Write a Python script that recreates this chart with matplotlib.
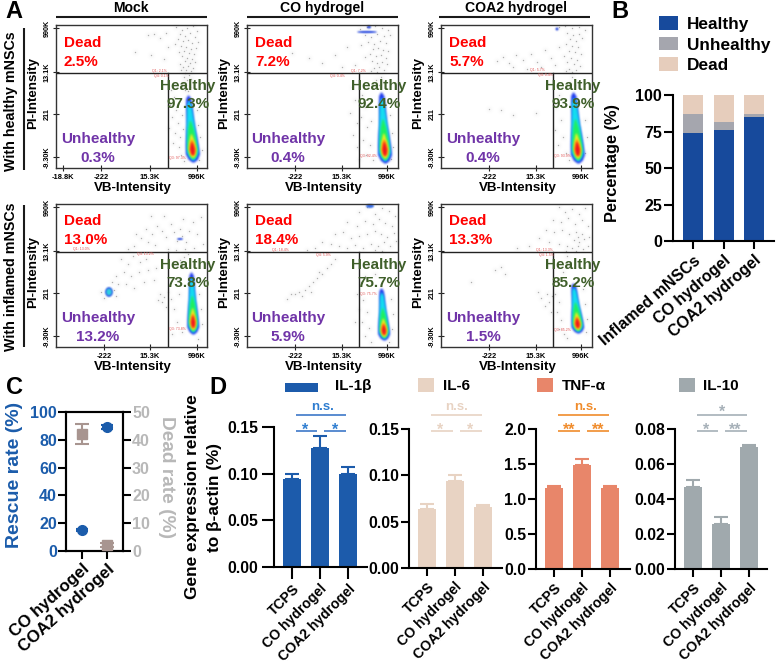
import numpy as np
import matplotlib
matplotlib.use("Agg")
import matplotlib.pyplot as plt
from matplotlib.patches import Ellipse, Rectangle

plt.rcParams['font.family'] = ['Liberation Sans', 'DejaVu Sans']
plt.rcParams['font.weight'] = 'bold'

W, H = 777, 664
DARK = '#1a1a1a'

# ---------- panel A values ----------
conditions = ['Mock', 'CO hydrogel', 'COA2 hydrogel']
rows = ['With healthy mNSCs', 'With inflamed mNSCs']
dead_pct = [['2.5%', '7.2%', '5.7%'], ['13.0%', '18.4%', '13.3%']]
healthy_pct = [['97.3%', '92.4%', '93.9%'], ['73.8%', '75.7%', '85.2%']]
unhealthy_pct = [['0.3%', '0.4%', '0.4%'], ['13.2%', '5.9%', '1.5%']]

# events, in plot units (0-151 across, 0-143 down)
events_r1c1 = [(120,2),(126,5),(131,3),(137,1),(141,6),(124,9),(129,11),(134,8),(139,12),(122,14),(127,16),(132,15),(136,18),(142,17),(119,19),(125,21),(130,22),(135,24),(140,23),(128,26),(133,28),(138,29),(123,27),(126,31),(131,33),(136,34),(129,36),(134,38),(139,37),(124,39),(127,42),(132,41),(137,43),(130,45),(135,46),(125,45),(129,48),(133,50),(128,52),(131,55),(135,54),(127,58),(130,60),(134,62),(129,65),(132,66),(92,10),(98,9),(110,8),(104,13),(79,27),(95,30),(108,34),(112,22),(115,65),(118,72),(114,80),(120,85),(116,92),(122,98),(113,103),(119,108),(124,112),(117,118),(123,122),(126,90),(127,104),(125,130),(128,136),(142,100),(144,112),(146,125),(143,135),(141,85)]
events_r1c2 = [(113,4),(120,2),(128,1),(135,3),(141,5),(118,10),(124,12),(130,9),(137,11),(143,10),(121,17),(127,19),(133,16),(139,18),(126,24),(131,23),(136,25),(141,26),(123,29),(129,31),(134,30),(139,33),(125,36),(130,38),(135,37),(140,39),(127,43),(132,42),(137,45),(124,46),(130,47),(134,52),(129,55),(132,60),(136,57),(45,28),(62,33),(75,38),(88,30),(100,22),(108,40),(95,42),(118,32),(114,20),(105,62),(108,75),(103,88),(110,98),(106,110),(110,122),(115,70),(118,82),(114,92),(120,102),(116,115),(123,120),(119,130),(126,135),(124,96),(143,90),(145,108),(146,122),(144,134),(112,134)]
events_r1c3 = [(118,2),(124,1),(131,3),(138,2),(144,5),(126,8),(132,10),(138,9),(129,14),(135,16),(141,13),(125,19),(131,21),(137,22),(128,26),(134,27),(140,29),(123,31),(130,33),(136,35),(126,37),(133,39),(139,41),(128,44),(135,45),(125,46),(131,47),(56,36),(62,32),(68,38),(75,30),(82,35),(90,29),(96,37),(104,25),(110,33),(114,40),(100,42),(86,44),(72,42),(118,22),(131,52),(128,58),(134,60),(60,85),(72,90),(48,84),(95,88),(118,70),(115,82),(120,95),(114,105),(122,112),(117,120),(125,128),(128,135),(144,95),(146,112),(144,128)]
events_r2c1 = [(90,25),(96,30),(101,22),(106,27),(110,33),(92,38),(99,41),(85,34),(78,42),(72,45),(115,20),(118,28),(121,37),(124,25),(127,15),(126,32),(130,38),(133,27),(137,18),(141,30),(145,13),(147,40),(138,44),(129,45),(120,46),(108,12),(95,12),(80,30),(112,45),(65,55),(72,60),(77,52),(84,58),(90,55),(60,72),(68,68),(75,72),(83,68),(92,66),(100,64),(56,78),(62,80),(70,80),(78,84),(88,78),(98,76),(45,88),(48,94),(60,92),(58,86),(104,90),(108,93),(112,88),(106,98),(110,103),(115,95),(102,96),(118,60),(124,56),(128,53),(132,50),(126,62),(120,75),(123,90),(118,105),(121,118),(126,128),(116,130),(143,90),(145,105),(146,120),(142,135)]
events_r2c2 = [(112,8),(120,3),(128,10),(135,4),(142,7),(148,12),(100,18),(110,22),(118,17),(126,20),(132,15),(138,19),(145,22),(88,30),(96,28),(104,34),(112,32),(120,30),(128,27),(134,30),(140,33),(147,29),(75,38),(84,40),(92,42),(100,44),(108,41),(116,44),(124,40),(131,42),(137,38),(143,42),(149,37),(128,46),(135,47),(68,44),(60,46),(88,55),(84,60),(80,64),(75,70),(70,74),(66,78),(72,68),(62,82),(58,86),(52,88),(48,90),(55,92),(44,90),(40,95),(64,88),(110,90),(114,78),(118,72),(116,96),(120,108),(115,118),(122,124),(118,132),(124,138),(128,70),(144,95),(146,110),(145,125),(142,138),(112,105),(108,118)]
events_r2c3 = [(118,3),(124,8),(131,5),(138,10),(144,4),(112,16),(120,18),(127,14),(134,20),(141,16),(147,22),(105,26),(113,28),(121,26),(128,30),(135,28),(137,33),(141,30),(133,36),(138,38),(143,35),(148,33),(98,34),(108,38),(118,40),(126,42),(131,44),(137,42),(142,45),(147,42),(88,42),(76,44),(125,47),(135,47),(60,63),(64,70),(54,66),(30,78),(126,52),(128,60),(122,68),(106,90),(100,94),(108,98),(111,92),(104,102),(110,108),(97,88),(114,90),(118,98),(116,108),(120,116),(118,125),(123,130),(126,134),(142,85),(144,100),(146,115),(145,128)]
events = [[events_r1c1, events_r1c2, events_r1c3], [events_r2c1, events_r2c2, events_r2c3]]

# density ridge of the healthy population: (x bottom, y bottom, x top, y top, width factor)
ridges = [[(137,137,132,70,1.0), (138,138,134,67,1.0), (137,138,132,67,1.0)],
          [(137,130,135,68,0.85), (137,136,134,84,0.85), (137,129,132,79,0.9)]]
band_colors = ['#1f3cf0', '#14dcf0', '#20f060', '#f0f020', '#ff8a10', '#f01020']
band_v = [[0,.04,.12,.25,.4,.55,.7,.85,.95,1], [.03,.08,.15,.3,.5,.7,.85,.92],
          [.05,.1,.2,.35,.5,.62], [.07,.12,.2,.3,.42], [.1,.14,.2,.28,.34], [.11,.15,.2,.25,.3]]
band_hw = [[1,4.5,7,6.5,5.5,4.2,3.6,3.2,2.6,.5], [.8,3.7,6,5.5,4.5,3.2,2.4,.5],
           [1,3.5,5,4.2,2.8,.6], [1,3,4,3,.6], [1,2.6,3.2,2.2,.5], [.8,1.8,2.2,1.4,.4]]
# smaller populations: (row, col, x, y, width, height, colour)
spots = [(0,1,120,7,20,2.2,'#3050e0'), (0,1,122,2,4,3,'#3050e0'), (0,2,116,4,3,3,'#3050e0'),
         (1,0,53,88,8,10,'#3a70e8'), (1,0,53,88,5,6,'#2fd0e0'), (1,0,124,35,6,2,'#3050e0'),
         (1,1,123,2,8,4,'#3a70e8')]
# tick positions and small gate percent labels
xticks_lab = [[[7,45,94,141], [48,95,140], [48,95,140]], [[48,94,141], [48,95,140], [48,95,140]]]
xticks_txt = [[['-18.8K','-222','15.3K','996K'], ['-222','15.3K','996K'], ['-222','15.3K','996K']],
              [['-222','15.3K','996K'], ['-222','15.3K','996K'], ['-222','15.3K','996K']]]
yticks_pos = [3, 47, 89, 132]
yticks_txt = ['990K', '13.1K', '211', '-9.30K']
gate_labels = [[[(96,46,'Q1: 2.1%'),(98,51,'Q4: 0.1%'),(113,133,'Q3: 97.3%')],
                [(104,46,'Q1: 7.2%'),(83,51,'Q4: 0.4%'),(113,131,'Q3: 92.4%')],
                [(89,45,'Q1: 5.7%'),(97,50,'Q4: 0.4%'),(113,131,'Q3: 93.9%')]],
               [[(17,45,'Q1: 13.0%'),(81,50,'Q4: 13.2%'),(113,125,'Q3: 73.8%')],
                [(25,46,'Q1: 18.4%'),(69,51,'Q4: 5.9%'),(113,90,'Q3: 75.7%')],
                [(95,46,'Q1: 13.3%'),(98,51,'Q4: 1.5%'),(113,126,'Q3: 85.2%')]]]

# ---------- panel B ----------
b_groups = ['Inflamed mNSCs', 'CO hydrogel', 'COA2 hydrogel']
b_healthy = [73.8, 75.7, 85.2]
b_unhealthy = [13.2, 5.9, 1.5]
b_dead = [13.0, 18.4, 13.3]

# ---------- panel C ----------
c_groups = ['CO hydrogel', 'COA2 hydrogel']
c_rescue = [15.0, 89.0]
c_rescue_err = [0.8, 1.5]
c_dead = [42.2, 2.2]
c_dead_err = [3.6, 0.7]

# ---------- panel D ----------
d_groups = ['TCPS', 'CO hydrogel', 'COA2 hydrogel']
il1b = [0.094, 0.128, 0.100]
il1b_top = [0.0994, 0.1407, 0.107]
il6 = [0.064, 0.094, 0.066]
il6_top = [0.069, 0.100, 0.0684]
tnfa = [1.16, 1.49, 1.16]
tnfa_top = [1.19, 1.577, 1.19]
il10 = [0.047, 0.0255, 0.0695]
il10_top = [0.0507, 0.0295, 0.0709]

fig = plt.figure(figsize=(W / 100, H / 100), dpi=100, facecolor='white')


def axpx(x0, y0, x1, y1, **kw):
    return fig.add_axes([x0 / W, 1 - y1 / H, (x1 - x0) / W, (y1 - y0) / H], **kw)


def soft(taps):
    k = np.array(taps, float)
    k /= k.sum()
    pad = len(taps)

    def filt(im, dpi):
        out = np.zeros((im.shape[0] + 2 * pad, im.shape[1] + 2 * pad, 4))
        out[pad:-pad, pad:-pad] = im
        pm = out.copy()
        pm[..., :3] *= out[..., 3:4]
        for axis in (0, 1):
            pm = np.apply_along_axis(lambda m: np.convolve(m, k, mode='same'), axis, pm)
        a = np.clip(pm[..., 3:4], 1e-4, 1)
        pm[..., :3] = np.clip(pm[..., :3] / a, 0, 1)
        return pm, -pad, -pad
    return filt


ov = fig.add_axes([0, 0, 1, 1], zorder=20)
ov.set_xlim(0, W)
ov.set_ylim(H, 0)
ov.axis('off')
ov.patch.set_alpha(0)


def T(x, y, s, size, color='black', ha='center', va='center', rot=0, weight='bold', **kw):
    return ov.text(x, y, s, fontsize=size, color=color, ha=ha, va=va, rotation=rot,
                   fontweight=weight, rotation_mode='anchor', **kw)


def L(x0, y0, x1, y1, color=DARK, lw=1.5):
    ov.plot([x0, x1], [y0, y1], color=color, lw=lw, solid_capstyle='butt')


# ---------- panel A ----------
col_x = [56, 247, 441]
row_y = [25, 204]
PW, PH = 151, 143
VGATE, HGATE = 112, 48
for r in range(2):
    for c in range(3):
        x0, y0 = col_x[c], row_y[r]
        ax = axpx(x0, y0, x0 + PW, y0 + PH)
        ax.set_xlim(0, PW)
        ax.set_ylim(PH, 0)
        for s in ax.spines.values():
            s.set_linewidth(1.0)
            s.set_color('#333333')
        ev = np.array(events[r][c])
        haze = ax.scatter(ev[:, 0], ev[:, 1], s=5, color='#b0b0b0', linewidths=0, alpha=.3, zorder=1)
        haze.set_agg_filter(soft([1, 2, 3, 2, 1]))
        ax.scatter(ev[:, 0], ev[:, 1], s=1.0, color='#909090', linewidths=0, alpha=.7, zorder=1)
        xb, yb, xt, yt, wf = ridges[r][c]
        for col, v, hw in zip(band_colors, band_v, band_hw):
            v = np.array(v)
            hw = np.array(hw) * wf
            yy = yb + (yt - yb) * v
            cx = xb + (xt - xb) * v
            pg = ax.fill_betweenx(yy, cx - hw, cx + hw, color=col, lw=0, zorder=2)
            pg.set_agg_filter(soft([1, 2, 1]))
        for (rr, cc, sx, sy, sw, sh, col) in spots:
            if rr == r and cc == c:
                e = Ellipse((sx, sy), sw, sh, color=col, lw=0, zorder=2)
                e.set_agg_filter(soft([1, 2, 1]))
                ax.add_patch(e)
        ax.axhline(HGATE, color='#222222', lw=1.0, zorder=3)
        ax.plot([VGATE, VGATE], [HGATE, PH], color='#222222', lw=1.0, zorder=3)
        for gx, gy, gs in gate_labels[r][c]:
            ax.text(gx, gy, gs, fontsize=2.6, color='#e05555', ha='left', va='center', fontweight='normal')
        ax.set_xticks(xticks_lab[r][c])
        ax.set_xticklabels(xticks_txt[r][c], fontsize=5.4)
        ax.set_yticks(yticks_pos)
        ax.set_yticklabels(yticks_txt, fontsize=5.2, rotation=90, va='center')
        ax.tick_params(axis='both', direction='inout', length=4, width=.8, pad=2, color='#222222')
        # text
        T(x0 + 8, y0 + 18 - (r == 1) * 1, 'Dead', 11, 'red', ha='left')
        T(x0 + 8, y0 + 37 - (r == 1) * 1, dead_pct[r][c], 11, 'red', ha='left')
        hx = x0 + 132
        T(hx, y0 + 61, 'Healthy', 11, '#3f5f2a')
        T(hx, y0 + 79, healthy_pct[r][c], 11, '#3f5f2a')
        ux = x0 + [42, 41, 42][c]
        T(ux, y0 + 114, 'Unhealthy', 11, '#7034a8')
        T(ux, y0 + 133, unhealthy_pct[r][c], 11, '#7034a8')
        T(x0 - 23, y0 + 68, 'PI-Intensity', 9.6, rot=90)
        T(x0 + 77, y0 + PH + 20, 'VB-Intensity', 9.6)

for i, name in enumerate(conditions):
    x0 = col_x[i]
    T(x0 + 75, 8, name, 10.1)
    L(x0 - (2 if i == 2 else 0), 17, x0 + PW - (2 if i == 2 else 0), 17, lw=1.5)
T(11, 101, rows[0], 10.3, rot=90)
T(11, 277, rows[1], 10.3, rot=90)
L(24, 28, 24, 170)
L(24, 205, 24, 347)

# panel letters
T(5, 12, 'A', 17, ha='left')
T(611, 12, 'B', 17, ha='left')
T(6, 388, 'C', 17, ha='left')
T(209, 388, 'D', 17, ha='left')


def style_axes(ax, lw=1.5):
    ax.spines['top'].set_visible(False)
    ax.spines['right'].set_visible(False)
    ax.spines['left'].set_linewidth(lw)
    ax.spines['bottom'].set_linewidth(lw)


# ---------- panel B ----------
axb = axpx(673, 95, 774, 241)
xb = np.arange(3)
axb.set_xlim((673 - 693) / 30.7, (774 - 693) / 30.7)
axb.set_ylim(0, 100)
h1 = axb.bar(xb, b_healthy, width=.65, color='#174a9c', label='Healthy')
h2 = axb.bar(xb, b_unhealthy, bottom=b_healthy, width=.65, color='#a5a6ae', label='Unhealthy')
h3 = axb.bar(xb, b_dead, bottom=np.add(b_healthy, b_unhealthy), width=.65, color='#e6cdbc', label='Dead')
style_axes(axb)
axb.set_yticks([0, 25, 50, 75, 100])
axb.tick_params(axis='y', labelsize=11.5, length=6.5, width=1.5, pad=1.5)
axb.set_xticks(xb)
axb.set_xticklabels(b_groups, rotation=41, ha='right', rotation_mode='anchor', fontsize=11.5)
axb.tick_params(axis='x', length=5.5, width=1.5, pad=3)
T(613, 163, 'Percentage (%)', 11.8, rot=90)
leg = axb.legend(handles=[h1, h2, h3], loc='upper left', bbox_to_anchor=(655.5 / W, 1 - 13 / H),
                 bbox_transform=fig.transFigure, frameon=False, fontsize=12.4, handlelength=1.1,
                 handleheight=.85, labelspacing=.26, handletextpad=.55, borderpad=0.2, borderaxespad=0)

# ---------- panel C ----------
BLUE = '#1b5cab'
GREY = '#b8b8b8'
axc = axpx(66, 412, 123, 551)
xc = np.arange(2)
axc.set_xlim((66 - 82) / 25, (123 - 82) / 25)
axc.set_ylim(0, 100)
axc.errorbar(xc, c_rescue, yerr=c_rescue_err, fmt='o', ms=7, color=BLUE, capsize=4, lw=1.5, capthick=1.5, zorder=3)
for s in axc.spines.values():
    s.set_linewidth(1.5)
axc.set_yticks([0, 20, 40, 60, 80, 100])
axc.tick_params(axis='y', labelsize=11.5, labelcolor=BLUE, length=5.5, width=1.5, pad=1)
axc.set_xticks(xc)
axc.set_xticklabels(c_groups, rotation=42, ha='right', rotation_mode='anchor', fontsize=12.2)
axc.tick_params(axis='x', length=5.5, width=1.5, pad=2)
axc2 = axc.twinx()
axc2.set_ylim(0, 50)
axc2.errorbar(xc, c_dead, yerr=c_dead_err, fmt='s', ms=6.5, color='#a89590', capsize=5, lw=1.5, capthick=1.5, zorder=3)
axc2.set_yticks([0, 10, 20, 30, 40, 50])
axc2.tick_params(axis='y', labelsize=11.5, labelcolor=GREY, length=5.5, width=1.5, pad=1)
for s in axc2.spines.values():
    s.set_linewidth(1.5)
T(15, 475, 'Rescue rate (%)', 14, BLUE, rot=90)
T(166, 477, 'Dead rate (%)', 13.8, GREY, rot=270)


# ---------- panel D ----------
def bar_panel(x_axis, x_end, y_top, y_zero, ticks_px, vals, tops, ymax, yticks, fmt, color, tlen, ypad, xpad):
    ax = axpx(x_axis, y_top, x_end, y_zero)
    step = ticks_px[1] - ticks_px[0]
    x = np.arange(3)
    ax.set_xlim((x_axis - ticks_px[0]) / step, (x_end - ticks_px[0]) / step)
    ax.set_ylim(0, ymax)
    err = np.subtract(tops, vals)
    ax.bar(x, vals, width=.66, color=color, yerr=[np.zeros(3), err],
           error_kw=dict(ecolor=color, lw=1.5, capsize=5.2, capthick=1.5))
    style_axes(ax)
    ax.set_yticks(yticks)
    ax.set_yticklabels([fmt % t for t in yticks])
    ax.tick_params(axis='y', labelsize=11.4, length=tlen, width=1.5, pad=ypad)
    ax.set_xticks(x)
    ax.set_xticklabels(d_groups, rotation=45, ha='right', rotation_mode='anchor', fontsize=10.1)
    ax.tick_params(axis='x', length=tlen, width=1.5, pad=xpad)
    return ax


bar_panel(274, 367, 427, 567, [292, 320, 348], il1b, il1b_top, .15, [0, .05, .10, .15], '%.2f', '#1c5bab', 8.6, 3, 2)
bar_panel(409, 502, 429, 568, [427, 455, 483], il6, il6_top, .15, [0, .05, .10, .15], '%.2f', '#e8d3c3', 5.5, 1.5, 3)
bar_panel(536, 630, 429, 569, [554, 582, 611], tnfa, tnfa_top, 2.0, [0, .5, 1.0, 1.5, 2.0], '%.1f', '#e8866a', 5.5, 1.5, 3)
bar_panel(675, 767, 429, 569, [693, 721, 749], il10, il10_top, .08, [0, .02, .04, .06, .08], '%.2f', '#a0a9ad', 5.5, 1.5, 3)

T(193, 497, 'Gene expression relative', 12.4, rot=90)
T(215, 497, 'to β-actin (%)', 12.4, rot=90)


def annot(x0, x1, xm, x2, x3, color, top, s1, s2, sx1, sx2, tcolor=None):
    L(x0, 415, x3, 415, color=color, lw=1.2)
    L(x0, 431, x1, 431, color=color, lw=1.2)
    L(x2, 431, x3, 431, color=color, lw=1.2)
    tcolor = tcolor or color
    if top == 'n.s.':
        T(xm, 407, top, 9.5, tcolor)
    else:
        T(xm, 412, top, 11.5, tcolor)
    T(sx1, 430, s1, 11.5, tcolor)
    T(sx2, 430, s2, 11.5, tcolor)


annot(296, 317, 323, 324, 346, '#3d78c8', 'n.s.', '*', '*', 305, 335, '#2f7dd0')
annot(431, 453, 457, 460, 482, '#e8d3c3', 'n.s.', '*', '*', 440, 470)
annot(558, 580, 586, 587, 609, '#f08c2c', 'n.s.', '**', '**', 569, 598)
annot(697, 718, 722, 725, 747, '#a6b0b8', '*', '*', '**', 706, 735)

legend_names = ['IL-1β', 'IL-6', 'TNF-α', 'IL-10']
legend_cols = ['#1c5bab', '#e8d3c3', '#e8866a', '#a0a9ad']
lx0 = [285, 418, 537, 679]
lx1 = [318, 434, 553, 695]
ly0 = [383, 378, 378, 378]
ly1 = [392, 392, 392, 392]
ltx = [335, 443, 562, 703]
for nm, col, a, b, c0, c1, tx in zip(legend_names, legend_cols, lx0, lx1, ly0, ly1, ltx):
    ov.add_patch(Rectangle((a, c0), b - a, c1 - c0, color=col, lw=0))
    T(tx, 386, nm, 11, ha='left')

fig.savefig('out.png', dpi=100, facecolor='white')
